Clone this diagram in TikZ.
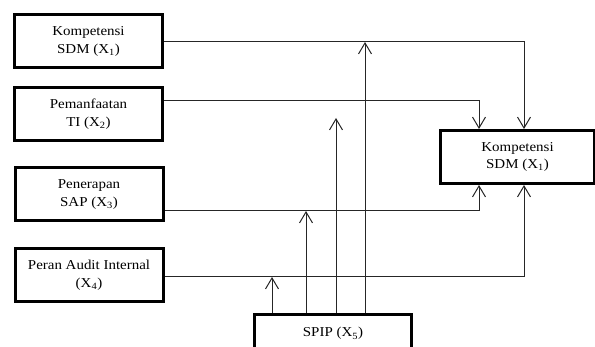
\documentclass[tikz,border=0pt]{standalone}
\usepackage{fontspec}
\setmainfont{Liberation Serif}[FakeStretch=1.1]
\usetikzlibrary{arrows.meta}

\begin{document}
\begin{tikzpicture}[x = 1pt, y = -1pt,
  box/.style = {draw, line width=3pt, minimum width=148pt, minimum height=53pt,
    inner sep=0pt, align=center, font=\fontsize{13.6}{17.5}\selectfont},
  link/.style = {line width=1pt, draw=black!85},
  arr/.style = {link, -{Straight Barb[length=11pt,width=13pt,line width=1pt]}}]

  \useasboundingbox (0,0) rectangle (595,347);
  \clip (0,0) rectangle (595,347);

  % independent variables
  \node[box] (kompetensi)  at (88.5,41.5) {Kompetensi\\SDM (X\textsubscript{1})};
  \node[box] (pemanfaatan) at (88.5,114)  {Pemanfaatan\\TI (X\textsubscript{2})};
  \node[box] (penerapan)   at (89,194.5)  {Penerapan\\SAP (X\textsubscript{3})};
  \node[box] (audit)       at (89,275)    {Peran Audit Internal\\(X\textsubscript{4})};

  % dependent variable
  \node[box, minimum width=154pt] (hasil) at (517.5,157)
    {Kompetensi\\SDM (X\textsubscript{1})};

  % moderating variable
  \node[box, minimum width=157pt, text height=9pt, text depth=17pt, anchor=north]
    (spip) at (333,313) {SPIP (X\textsubscript{5})};

  % direct paths
  \draw[arr] (kompetensi.east) -| ([xshift=6.5pt]hasil.north);
  \draw[arr] ([yshift=13pt]pemanfaatan.east) -| ([xshift=-38.5pt]hasil.north);
  \draw[arr] ([yshift=-16.5pt]penerapan.east) -| ([xshift=-38.5pt]hasil.south);
  \draw[arr] ([yshift=-2pt]audit.east) -| ([xshift=6.5pt]hasil.south);

  % moderation
  \foreach \dx/\len in {-61/36, -27/102, 3/195, 32/271}
  \draw[arr] ([xshift=\dx pt]spip.north) -- ++(0,-\len);

\end{tikzpicture}
\end{document}
